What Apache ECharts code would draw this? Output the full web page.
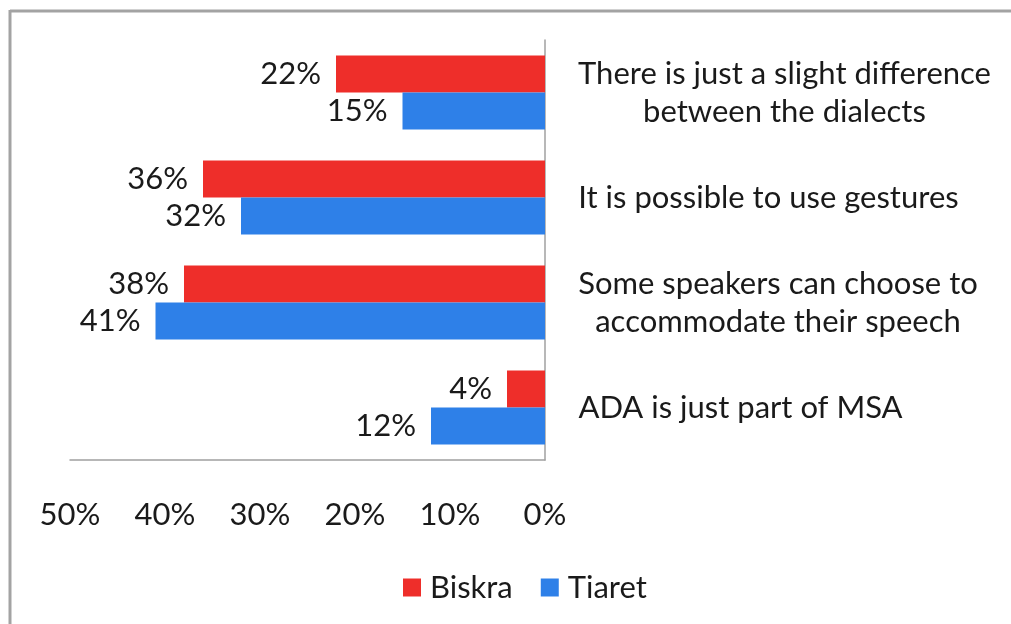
<!DOCTYPE html>
<html>
<head>
<meta charset="utf-8">
<script src="https://cdn.jsdelivr.net/npm/echarts@6/dist/echarts.min.js"></script>
<style>
  html, body { margin: 0; padding: 0; background: #fff; }
  #chart { width: 1011px; height: 624px; }
</style>
</head>
<body>
<div id="chart"></div>
<script>
// Statements, listed top to bottom
const categories = [
  'There is just a slight difference\nbetween the dialects',
  'It is possible to use gestures',
  'Some speakers can choose to\naccommodate their speech',
  'ADA is just part of MSA'
];
const biskra = [22, 36, 38, 4];
const tiaret = [15, 32, 41, 12];
const xTicks = [0, 10, 20, 30, 40, 50];

const FONT = 'Lato';
const FS = 31;
const TEXT = '#1a1a1a';
const FRAME = '#a3a3a3';

// Multi-line labels are centred line by line inside a left-aligned block
const ctx = document.createElement('canvas').getContext('2d');
ctx.font = FS + 'px ' + FONT;
const rich = {};
categories.forEach((c, i) => {
  const w = Math.max(...c.split('\n').map(l => ctx.measureText(l).width));
  rich['r' + i] = { width: Math.ceil(w), align: 'center', fontSize: FS, fontFamily: FONT, color: TEXT, lineHeight: 38 };
});

const chart = echarts.init(document.getElementById('chart'), null, { renderer: 'canvas' });
chart.setOption({
  animation: false,
  textStyle: { fontFamily: FONT },
  // Chart frame: top and left edges
  graphic: [
    { type: 'line', shape: { x1: 10, y1: 11, x2: 1011, y2: 11 }, style: { stroke: FRAME, lineWidth: 3 }, silent: true },
    { type: 'line', shape: { x1: 10, y1: 10, x2: 10, y2: 624 }, style: { stroke: FRAME, lineWidth: 3 }, silent: true }
  ],
  grid: { left: 70, right: 466, top: 40, bottom: 164, containLabel: false },
  legend: {
    bottom: 21,
    left: 403,
    padding: 0,
    icon: 'rect',
    itemWidth: 18,
    itemHeight: 18,
    itemGap: 28,
    textStyle: { fontSize: FS, color: TEXT, fontFamily: FONT, padding: [0, 0, 0, 4] },
    data: ['Biskra', 'Tiaret']
  },
  xAxis: {
    type: 'value',
    inverse: true,
    min: xTicks[0],
    max: xTicks[xTicks.length - 1],
    interval: 10,
    axisLine: { show: true, lineStyle: { color: '#a0a0a0', width: 1.5 } },
    axisTick: { show: false },
    splitLine: { show: false },
    axisLabel: { formatter: '{value}%', fontSize: FS, color: TEXT, margin: 39, fontFamily: FONT }
  },
  yAxis: {
    type: 'category',
    inverse: true,
    position: 'right',
    data: categories,
    axisLine: { show: true, onZero: false, lineStyle: { color: '#a0a0a0', width: 1.5 } },
    axisTick: { show: false },
    axisLabel: {
      margin: 33,
      align: 'left',
      fontSize: FS,
      color: TEXT,
      lineHeight: 38,
      formatter: function (v, i) {
        return v.split('\n').map(l => '{r' + i + '|' + l + '}').join('\n');
      },
      rich: rich
    }
  },
  series: [
    {
      name: 'Biskra', type: 'bar', data: biskra,
      barWidth: 37, barGap: '0%',
      itemStyle: { color: '#EE2E2A' },
      label: { show: true, position: 'left', distance: 15, formatter: '{c}%', fontSize: FS, color: TEXT, fontFamily: FONT }
    },
    {
      name: 'Tiaret', type: 'bar', data: tiaret,
      barWidth: 37, barGap: '0%',
      itemStyle: { color: '#2E80E8' },
      label: { show: true, position: 'left', distance: 15, formatter: '{c}%', fontSize: FS, color: TEXT, fontFamily: FONT }
    }
  ]
});
</script>
</body>
</html>
